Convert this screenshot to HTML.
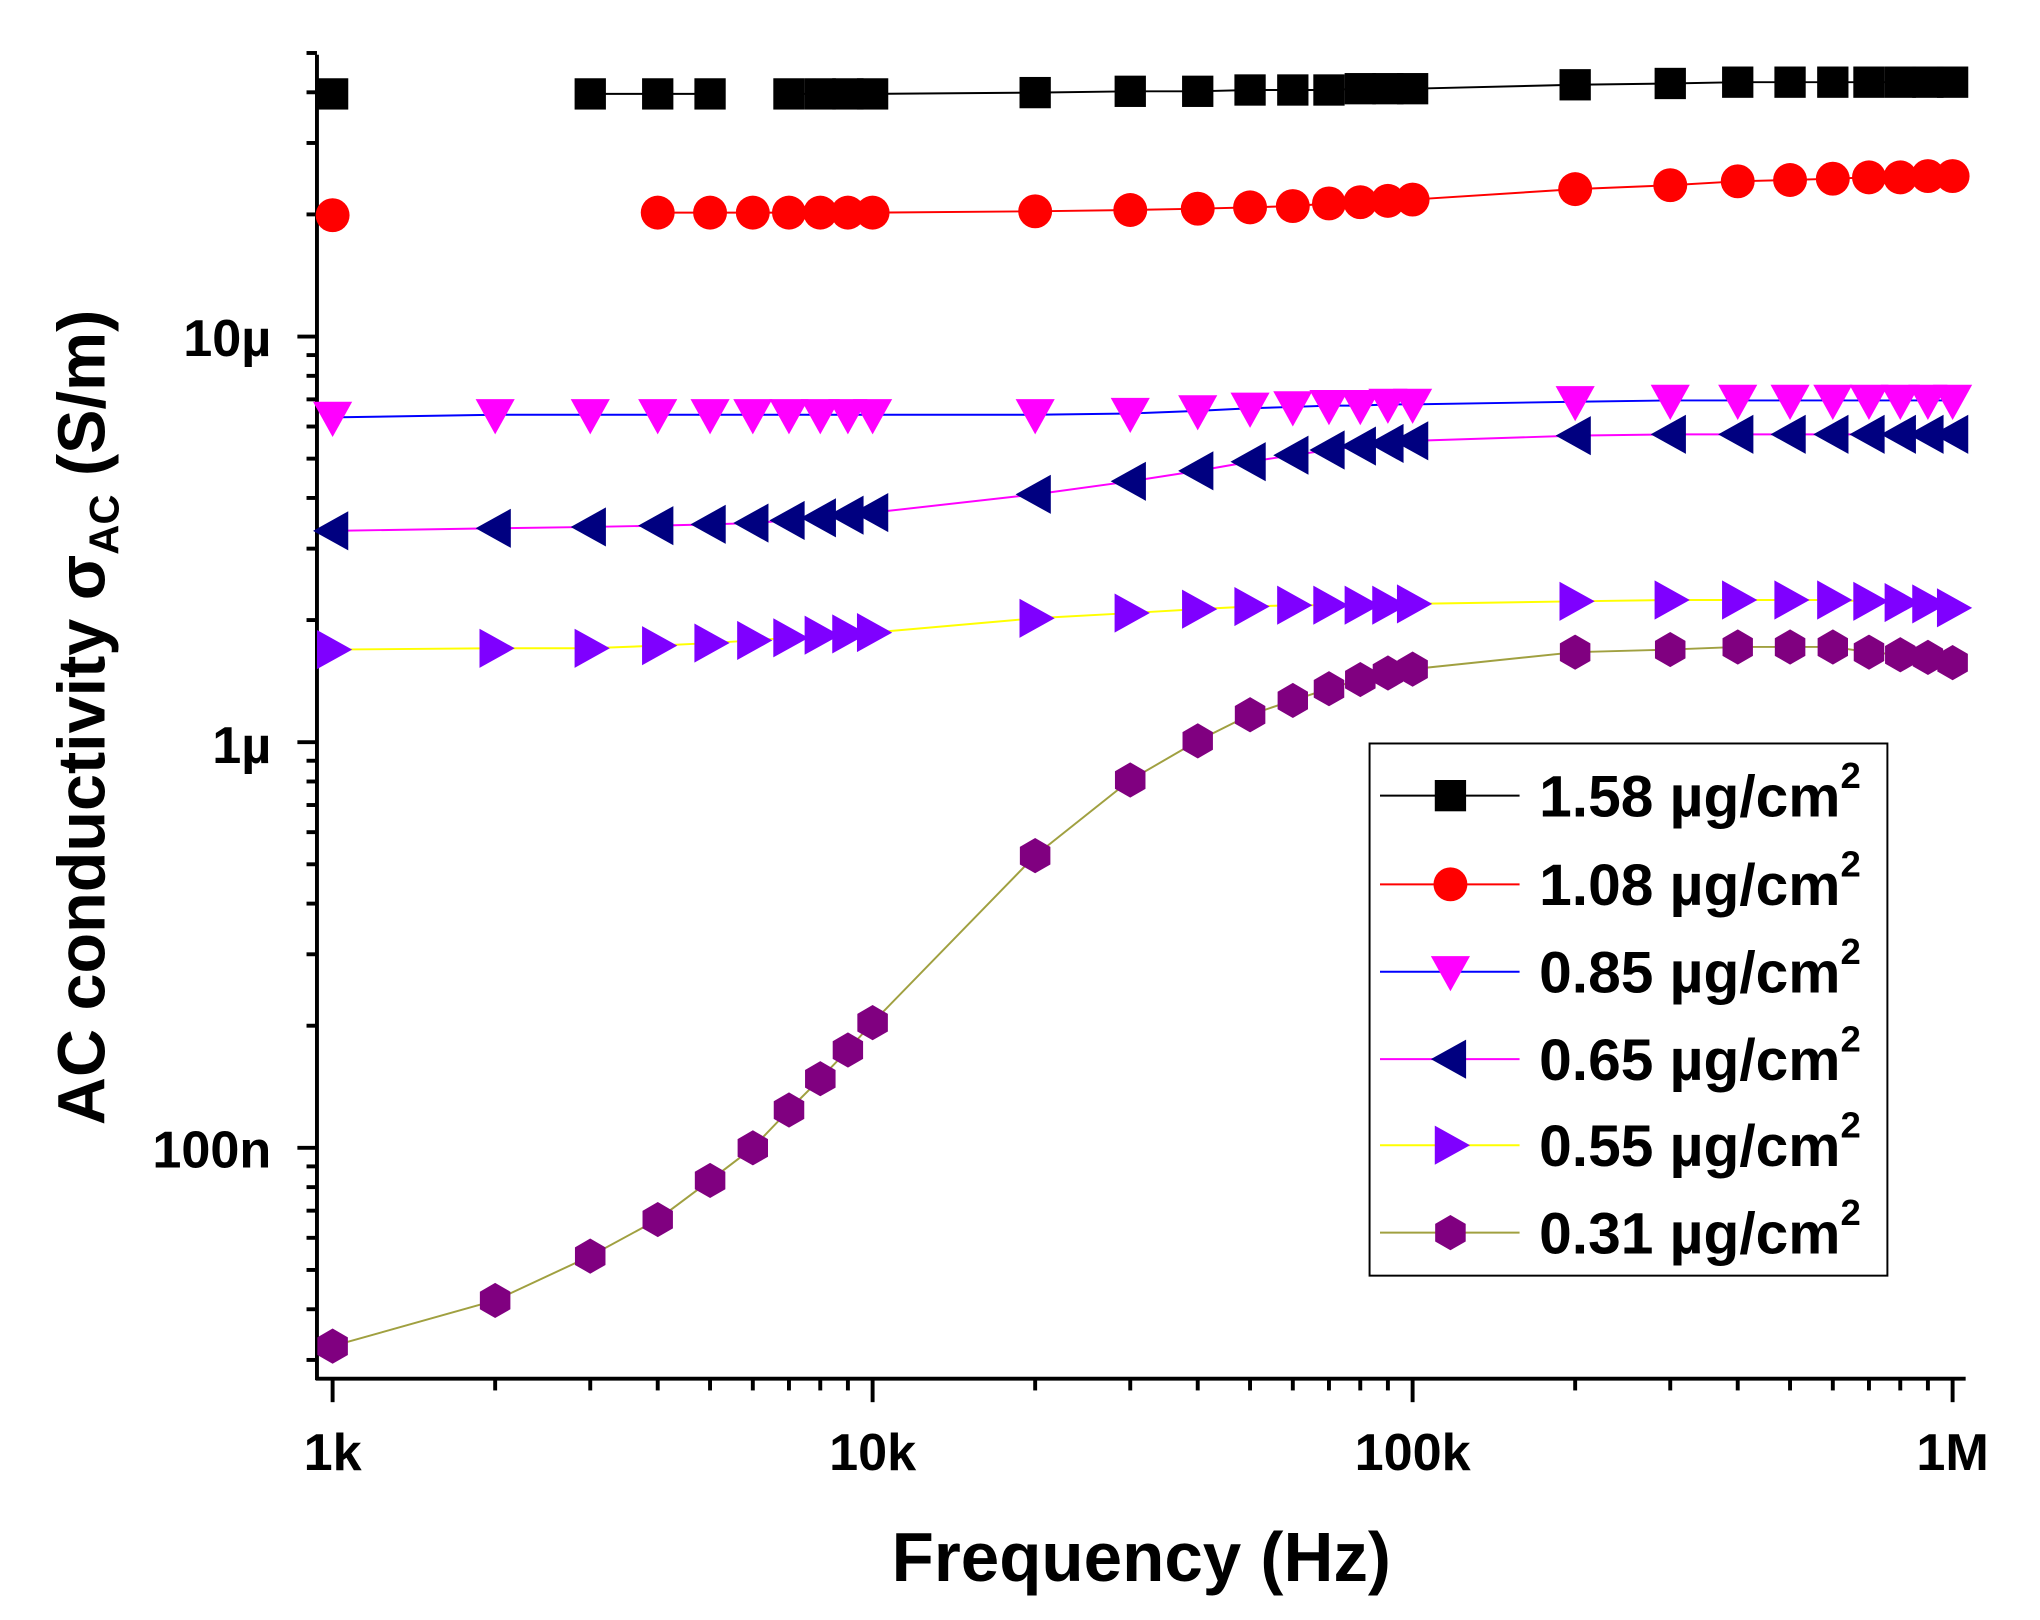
<!DOCTYPE html>
<html><head><meta charset="utf-8"><style>
html,body{margin:0;padding:0;background:#fff;}
svg{display:block;font-family:"Liberation Sans",Arial,sans-serif;font-weight:bold;}
</style></head><body>
<svg id="s" width="2040" height="1620" viewBox="0 0 1564 1242" xmlns="http://www.w3.org/2000/svg">
<rect width="1564" height="1242" fill="#fff"/>
<g id="axes" stroke="#000" stroke-width="3" fill="none"></g>
<g id="series"></g>
<g font-size="40" fill="#000" text-anchor="middle">
<text x="255" y="1127">1k</text>
<text x="669" y="1127">10k</text>
<text x="1083" y="1127">100k</text>
<text x="1497" y="1127">1M</text>
</g>
<g font-size="40" fill="#000" text-anchor="end">
<text x="208" y="273">10µ</text>
<text x="208" y="585">1µ</text>
<text x="208" y="895">100n</text>
</g>
<text x="875" y="1212" font-size="53" text-anchor="middle">Frequency (Hz)</text>
<text transform="translate(80,550) rotate(-90)" font-size="51" text-anchor="middle">AC conductivity σ<tspan font-size="32" dy="11">AC</tspan><tspan dy="-11"> (S/m)</tspan></text>
<rect x="1050" y="570" width="397" height="408" fill="#fff" stroke="#000" stroke-width="1.5"/>
<g id="legend"></g>
</svg>
<script>
const NS="http://www.w3.org/2000/svg";
function el(t,a,p){const e=document.createElementNS(NS,t);for(const k in a)e.setAttribute(k,a[k]);p.appendChild(e);return e;}
const ax=document.getElementById('axes');
el('line',{x1:243,y1:42,x2:243,y2:1058},ax);
el('line',{x1:242,y1:1057,x2:1507,y2:1057},ax);
const X=f=>255+Math.log10(f/1000)*414;
const Y=v=>258-Math.log10(v/10e-6)*311;
for(let d=1e3;d<=1e6;d*=10){for(let m=1;m<10;m++){const f=d*m;if(f>1e6)break;const x=X(f);el('line',{x1:x,y1:1057,x2:x,y2:m==1?1075:1066},ax);}}
for(let d=1e-8;d<1e-4;d*=10){for(let m=1;m<10;m++){const v=d*m;const y=Y(v);if(y<40||y>1057)continue;el('line',{x1:243,y1:y,x2:m==1?228:235,y2:y},ax);}}
const F=[1e3,2e3,3e3,4e3,5e3,6e3,7e3,8e3,9e3,1e4,2e4,3e4,4e4,5e4,6e4,7e4,8e4,9e4,1e5,2e5,3e5,4e5,5e5,6e5,7e5,8e5,9e5,1e6];
const S=[
 {c:'#000',l:'#000',m:'sq',lab:'1.58',y:[72,null,72,72,72,null,72,72,72,72,71,70,70,69,69,69,68,68,68,65,64,63,63,63,63,63,63,63]},
 {c:'#f00',l:'#f00',m:'ci',lab:'1.08',y:[165,null,null,163,163,163,163,163,163,163,162,161,160,159,158,156,155,154,153,145,142,139,138,137,136,136,135,135]},
 {c:'#f0f',l:'#00f',m:'td',lab:'0.85',y:[320,318,318,318,318,318,318,318,318,318,318,317,315,313,312,311,311,310,310,308,307,307,307,307,307,307,307,307]},
 {c:'#000080',l:'#f0f',m:'tl',lab:'0.65',y:[407,405,404,403,402,401,399,397,395,393,379,369,361,354,349,345,342,340,338,334,333,333,333,333,333,333,333,333]},
 {c:'#7f00ff',l:'#ff0',m:'tr',lab:'0.55',y:[498,497,497,495,493,491,489,487,486,485,474,470,467,465,464,464,464,464,463,461,460,460,460,460,461,462,463,466]},
 {c:'#800080',l:'#a0a040',m:'hx',lab:'0.31',y:[1032,997,963,935,905,880,851,827,805,784,656,598,568,548,537,528,521,516,513,500,498,496,496,496,500,502,504,508]}
];
function mk(type,x,y,c,g){
 if(type=='sq')el('rect',{x:x-12,y:y-12,width:24,height:24,fill:c},g);
 else if(type=='ci')el('circle',{cx:x,cy:y,r:13,fill:c},g);
 else if(type=='td')el('polygon',{points:`${x-15},${y-12} ${x+15},${y-12} ${x},${y+15}`,fill:c},g);
 else if(type=='tl')el('polygon',{points:`${x+12},${y-15} ${x+12},${y+15} ${x-15},${y}`,fill:c},g);
 else if(type=='tr')el('polygon',{points:`${x-12},${y-15} ${x-12},${y+15} ${x+15},${y}`,fill:c},g);
 else if(type=='hx'){let p=[];for(let i=0;i<6;i++){const a=Math.PI/6+i*Math.PI/3;p.push((x+13.5*Math.cos(a)).toFixed(1)+','+(y+13.5*Math.sin(a)).toFixed(1));}el('polygon',{points:p.join(' '),fill:c},g);}
}
const sg=document.getElementById('series');
S.forEach(s=>{
 for(let i=0;i<s.y.length-1;i++){
  if(s.y[i]==null||s.y[i+1]==null)continue;
  el('line',{x1:X(F[i]),y1:s.y[i],x2:X(F[i+1]),y2:s.y[i+1],stroke:s.l,'stroke-width':1.5},sg);
 }
});
S.forEach(s=>{s.y.forEach((y,i)=>{if(y!=null)mk(s.m,X(F[i]),y,s.c,sg);});});
const lg=document.getElementById('legend');
const LY=[610,678,745,812,878,945];
S.forEach((s,i)=>{
 const y=LY[i];
 el('line',{x1:1058,y1:y,x2:1165,y2:y,stroke:s.l,'stroke-width':1.5},lg);
 mk(s.m,1112,y,s.c,lg);
 const t=el('text',{x:1180,y:y+16,'font-size':45,fill:'#000'},lg);
 t.textContent=s.lab+' µg/cm';
 const sp=el('tspan',{'font-size':28,dy:-22},t);sp.textContent='2';
});
</script>
</body></html>
